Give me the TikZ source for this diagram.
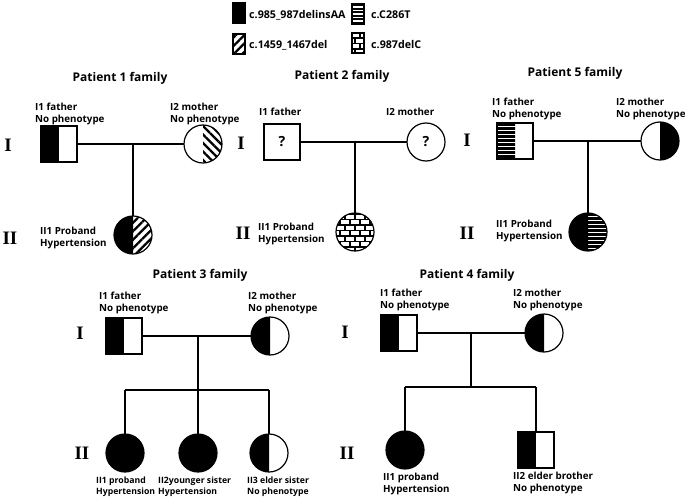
\documentclass[tikz,border=0pt]{standalone}
\usepackage{fontspec}
\setmainfont{Open Sans}
\newfontfamily\romfont{Liberation Serif}
\usepackage{tikz}
\usetikzlibrary{positioning,patterns,patterns.meta}

\pgfdeclarepatternformonly{thickbricks}{\pgfqpoint{-1pt}{-1pt}}{\pgfqpoint{11pt}{12pt}}{\pgfqpoint{10pt}{11pt}}{
  \pgfsetlinewidth{1.5pt}
  \pgfpathmoveto{\pgfqpoint{0pt}{0pt}}\pgfpathlineto{\pgfqpoint{10pt}{0pt}}
  \pgfpathmoveto{\pgfqpoint{0pt}{5.5pt}}\pgfpathlineto{\pgfqpoint{10pt}{5.5pt}}
  \pgfpathmoveto{\pgfqpoint{0pt}{0pt}}\pgfpathlineto{\pgfqpoint{0pt}{5.5pt}}
  \pgfpathmoveto{\pgfqpoint{5pt}{5.5pt}}\pgfpathlineto{\pgfqpoint{5pt}{11pt}}
  \pgfusepath{stroke}}

\tikzset{
  hatchR/.style = {pattern={Lines[angle=45,distance=6pt,line width=2.3pt]}},
  hatchL/.style = {pattern={Lines[angle=-45,distance=6pt,line width=2.3pt]}},
  solidhalf/.style = {fill=black},
  stripe/.style = {line width=2.3pt}
}
\newcommand{\sqleft}[2]{\path[#2] (#1.north west) rectangle (#1.south);}
\newcommand{\cirleft}[2]{\path[#2] (#1.north) arc[start angle=270,end angle=90,radius=19] -- cycle;}
\newcommand{\cirright}[2]{\path[#2] (#1.north) arc[start angle=-90,end angle=90,radius=19] -- cycle;}
\newcommand{\sqleftstripes}[1]{\begin{scope}
  \clip (#1.north west) rectangle (#1.south);
  \foreach \k in {1.5,5.5,...,37} \draw[stripe] ([yshift=-\k pt]#1.north west) -- ++(20,0);
  \end{scope}}
\newcommand{\cirrightstripes}[1]{\begin{scope}
  \clip (#1.north) arc[start angle=-90,end angle=90,radius=19] -- cycle;
  \foreach \k in {1.5,5.5,...,40} \draw[stripe] ([yshift=-\k pt]#1.north) -- ++(22,0);
  \end{scope}}
\newcommand{\boxstripes}[1]{\begin{scope}
  \clip (#1.north west) rectangle (#1.south east);
  \foreach \k in {1.5,5,...,21} \draw[line width=2pt] ([yshift=-\k pt]#1.north west) -- ++(14,0);
  \end{scope}}

\begin{document}
\begin{tikzpicture}[x=1pt, y=-1pt]
	\tikzstyle{every node} = [font=\bfseries\fontsize{9.8}{12}\selectfont]
	\tikzstyle{male} = [rectangle, draw = black, line width=1.2pt, minimum size=36pt, inner sep=0pt, outer sep=0pt]
	\tikzstyle{female} = [circle, draw = black, line width=1.2pt, minimum size=38pt, inner sep=0pt, outer sep=0pt]
	\tikzstyle{legbox} = [rectangle, draw = black, line width=1.2pt, minimum width=12pt, minimum height=20pt, inner sep=0pt, outer sep=0pt]
	\tikzstyle{lab} = [anchor=west, align=left, inner sep=0pt]
	\tikzstyle{legtext} = [anchor=west, inner sep=0pt, font=\bfseries\fontsize{10.7}{13}\selectfont]
	\tikzstyle{title} = [font=\bfseries\fontsize{12}{14}\selectfont]
	\tikzstyle{gen} = [font=\romfont\bfseries\fontsize{19}{20}\selectfont]
	\tikzstyle{line} = [line width=1.5pt]
\useasboundingbox (0,0) rectangle (685,500);
\node[legbox, fill=black] (l1) at (239,13) {};
\node[legbox, hatchR] (l2) at (239,44) {};
\node[legbox] (l3) at (358,14) {};
\node[legbox, pattern=thickbricks] (l4) at (358,43) {};
\boxstripes{l3}
\node[legtext] (t1) at (249,15) {c.985\_987delinsAA};
\node[legtext] (t2) at (249,45) {c.1459\_1467del};
\node[legtext] (t3) at (371,15) {c.C286T};
\node[legtext] (t4) at (371,45) {c.987delC};
\node[title] (p1) at (120,78) {Patient 1 family};
\node[title] (p2) at (342,76) {Patient 2 family};
\node[title] (p5) at (575,73) {Patient 5 family};
\node[title] (p3) at (200,275) {Patient 3 family};
\node[title] (p4) at (467,275) {Patient 4 family};
\node[gen] (g11) at (8,145) {I};
\node[gen] (g12) at (10,238) {II};
\node[gen] (g21) at (241,143) {I};
\node[gen] (g22) at (243,233) {II};
\node[gen] (g51) at (467,140) {I};
\node[gen] (g52) at (467,233) {II};
\node[gen] (g31) at (80,333) {I};
\node[gen] (g32) at (82,453) {II};
\node[gen] (g41) at (345,332) {I};
\node[gen] (g42) at (347,453) {II};
\node[male] (f1) at (59,144) {};
\node[female] (m1) at (203,144) {};
\coordinate (j1) at (133,144);
\node[female] (c1) at (133,235) {};
\sqleft{f1}{solidhalf}
\cirright{m1}{hatchL}
\cirleft{c1}{solidhalf}
\cirright{c1}{hatchR}
	\path[draw, line] (f1) -- (m1);
	\path[draw, line] (j1) -- (c1);
\node[lab] (f1a) at (35,114) {I1 father\\No phenotype};
\node[lab] (m1a) at (170,114) {I2 mother\\No phenotype};
\node[lab] (c1a) at (40,238) {II1 Proband\\Hypertension};
\node[male, font=\bfseries\fontsize{14}{16}\selectfont] (f2) at (282,142) {?};
\node[female, font=\bfseries\fontsize{14}{16}\selectfont] (m2) at (426,142) {?};
\coordinate (j2) at (355,142);
\node[female, pattern=thickbricks] (c2) at (355,232) {};
	\path[draw, line] (f2) -- (m2);
	\path[draw, line] (j2) -- (c2);
\node[lab] (f2a) at (259,112) {I1 father};
\node[lab] (m2a) at (386,112) {I2 mother};
\node[lab] (c2a) at (258,234) {II1 Proband\\Hypertension};
\node[male] (f5) at (515,141) {};
\node[female] (m5) at (660,141) {};
\coordinate (j5) at (588,141);
\node[female] (c5) at (588,232) {};
\sqleftstripes{f5}
\cirright{m5}{solidhalf}
\cirleft{c5}{solidhalf}
\cirrightstripes{c5}
	\path[draw, line] (f5) -- (m5);
	\path[draw, line] (j5) -- (c5);
\node[lab] (f5a) at (492,109) {I1 father\\No phenotype};
\node[lab] (m5a) at (616,109) {I2 mother\\No phenotype};
\node[lab] (c5a) at (496,231) {II1 Proband\\Hypertension};
\node[male] (f3) at (124,336) {};
\node[female] (m3) at (270,336) {};
\coordinate (j3) at (198,336);
\coordinate (k3) at (198,390);
\coordinate (s31) at (125,390);
\coordinate (s33) at (269,390);
\node[female, fill=black] (c31) at (125,453) {};
\node[female, fill=black] (c32) at (198,453) {};
\node[female] (c33) at (269,453) {};
\sqleft{f3}{solidhalf}
\cirleft{m3}{solidhalf}
\cirleft{c33}{solidhalf}
	\path[draw, line] (f3) -- (m3);
	\path[draw, line] (j3) -- (k3);
	\path[draw, line] (s31) -- (s33);
	\path[draw, line] (s31) -- (c31);
	\path[draw, line] (k3) -- (c32);
	\path[draw, line] (s33) -- (c33);
\node[lab] (f3a) at (99,303) {I1 father\\No phenotype};
\node[lab] (m3a) at (248,303) {I2 mother\\No phenotype};
\node[lab, font=\bfseries\fontsize{8.7}{11}\selectfont] (c31a) at (96,487) {II1 proband\\Hypertension};
\node[lab, font=\bfseries\fontsize{8.7}{11}\selectfont] (c32a) at (158,487) {II2younger sister\\Hypertension};
\node[lab, font=\bfseries\fontsize{8.7}{11}\selectfont] (c33a) at (247,487) {II3 elder sister\\No phenotype};
\node[male] (f4) at (399,333) {};
\node[female] (m4) at (544,333) {};
\coordinate (j4) at (471,333);
\coordinate (k4) at (471,387);
\coordinate (s41) at (405,387);
\coordinate (s42) at (536,387);
\node[female, fill=black] (c41) at (405,450) {};
\node[male] (c42) at (536,450) {};
\sqleft{f4}{solidhalf}
\cirleft{m4}{solidhalf}
\sqleft{c42}{solidhalf}
	\path[draw, line] (f4) -- (m4);
	\path[draw, line] (j4) -- (k4);
	\path[draw, line] (s41) -- (s42);
	\path[draw, line] (s41) -- (c41);
	\path[draw, line] (s42) -- (c42);
\node[lab] (f4a) at (380,300) {I1 father\\No phenotype};
\node[lab] (m4a) at (513,300) {I2 mother\\No phenotype};
\node[lab] (c41a) at (383,484) {II1 proband\\Hypertension};
\node[lab] (c42a) at (513,483) {II2 elder brother\\No phenotype};
	\end{tikzpicture}
\end{document}
